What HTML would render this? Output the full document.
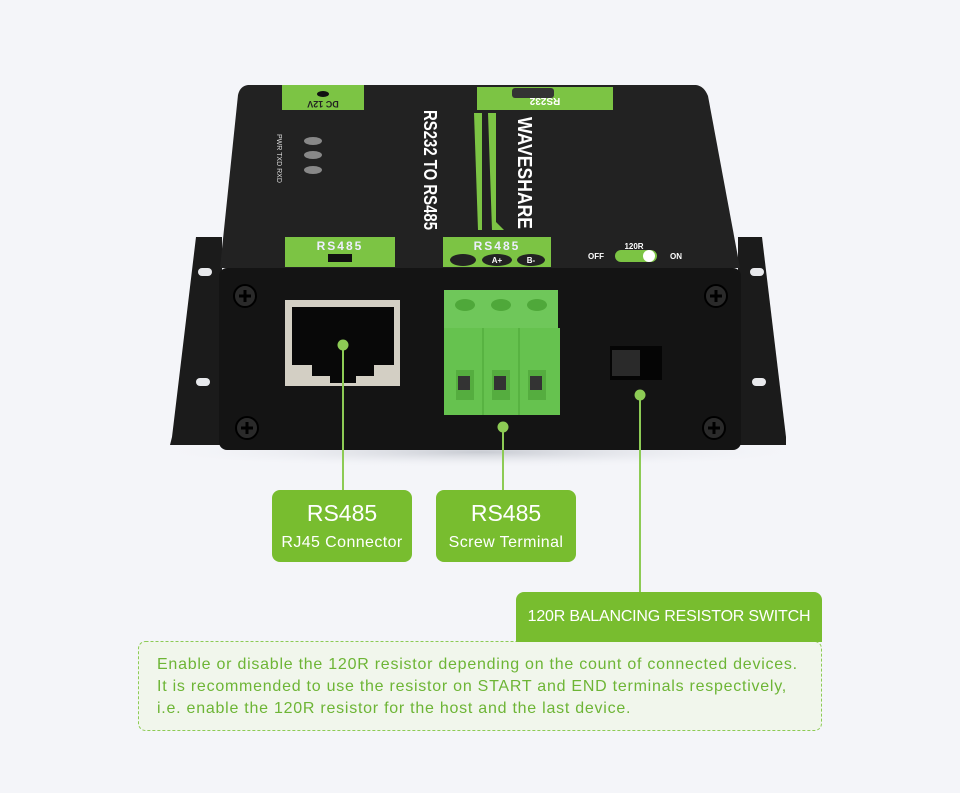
<!DOCTYPE html>
<html><head><meta charset="utf-8"><style>
body{margin:0;width:960px;height:793px;background:#f4f5f9;position:relative;overflow:hidden;font-family:"Liberation Sans",sans-serif}
.box{position:absolute;background:#78bd2f;color:#fff;text-align:center;border-radius:8px}
.t1{font-size:23px;line-height:26px;margin-top:10px}
.t2{font-size:16px;line-height:22px;margin-top:6px;letter-spacing:0.4px}
</style></head><body>
<svg width="960" height="793" style="position:absolute;left:0;top:0">
<defs><radialGradient id="sh" cx="50%" cy="50%" r="50%"><stop offset="0" stop-color="#c8cbd2"/><stop offset="1" stop-color="#f4f5f9" stop-opacity="0"/></radialGradient></defs>
<ellipse cx="480" cy="452" rx="330" ry="16" fill="url(#sh)"/>
<path d="M196 237 L222 237 L222 445 L170 445 L172 437 Z" fill="#1b1b1b"/>
<path d="M738 237 L762 237 L786 437 L786 445 L738 445 Z" fill="#1b1b1b"/>
<rect x="198" y="268" width="14" height="8" rx="4" fill="#e8e9ec"/>
<rect x="196" y="378" width="14" height="8" rx="4" fill="#e8e9ec"/>
<rect x="750" y="268" width="14" height="8" rx="4" fill="#e8e9ec"/>
<rect x="752" y="378" width="14" height="8" rx="4" fill="#e8e9ec"/>
<path d="M248 85 L696 85 Q704 86 708 96 L740 268 L220 268 L238 95 Q240 86 248 85 Z" fill="#222"/>
<rect x="282" y="85" width="82" height="25" fill="#7cc444"/>
<ellipse cx="323" cy="94" rx="6" ry="3" fill="#111"/>
<text x="323" y="107" font-size="9" font-weight="bold" fill="#222" text-anchor="middle" transform="rotate(180 323 104)">DC 12V</text>
<rect x="477" y="87" width="136" height="23" fill="#7cc444"/>
<rect x="512" y="88" width="42" height="10" rx="3" fill="#333"/>
<text x="545" y="104" font-size="10" font-weight="bold" fill="#fff" text-anchor="middle" transform="rotate(180 545 101)">RS232</text>
<ellipse cx="313" cy="141" rx="9" ry="4" fill="#888"/>
<ellipse cx="313" cy="155" rx="9" ry="4" fill="#888"/>
<ellipse cx="313" cy="170" rx="9" ry="4" fill="#888"/>
<text x="0" y="0" font-size="7" fill="#ddd" transform="translate(277 134) rotate(90)">PWR TXD RXD</text>
<text x="0" y="0" font-size="18" font-weight="bold" fill="#fff" textLength="120" lengthAdjust="spacingAndGlyphs" transform="translate(424 110) rotate(90)">RS232 TO RS485</text>
<path d="M474 113 L482 113 L482 230 L478 230 Z" fill="#7cc444"/>
<path d="M488 113 L496 113 L496 222 L504 230 L492 230 Z" fill="#7cc444"/>
<text x="0" y="0" font-size="20" font-weight="bold" fill="#fff" textLength="112" lengthAdjust="spacingAndGlyphs" transform="translate(518 117) rotate(90)">WAVESHARE</text>
<rect x="285" y="237" width="110" height="30" fill="#7cc444"/>
<text x="340" y="250" font-size="12" font-weight="bold" fill="#eef" text-anchor="middle" letter-spacing="2">RS485</text>
<rect x="328" y="254" width="24" height="8" fill="#111"/>
<rect x="443" y="237" width="108" height="30" fill="#7cc444"/>
<text x="497" y="250" font-size="12" font-weight="bold" fill="#eef" text-anchor="middle" letter-spacing="2">RS485</text>
<ellipse cx="463" cy="260" rx="13" ry="6" fill="#222"/><ellipse cx="497" cy="260" rx="15" ry="6" fill="#222"/><ellipse cx="531" cy="260" rx="14" ry="6" fill="#222"/>
<text x="497" y="263" font-size="8" font-weight="bold" fill="#fff" text-anchor="middle">A+</text>
<text x="531" y="263" font-size="8" font-weight="bold" fill="#fff" text-anchor="middle">B-</text>
<text x="634" y="249" font-size="8" font-weight="bold" fill="#fff" text-anchor="middle">120R</text>
<text x="596" y="259" font-size="8" font-weight="bold" fill="#fff" text-anchor="middle">OFF</text>
<text x="676" y="259" font-size="8" font-weight="bold" fill="#fff" text-anchor="middle">ON</text>
<rect x="615" y="250" width="42" height="12" rx="6" fill="#7cc444"/><circle cx="649" cy="256" r="6" fill="#fff"/>
<rect x="219" y="268" width="522" height="182" rx="8" fill="#141414"/>
<g fill="#2a2a2a" stroke="#000" stroke-width="2">
<circle cx="245" cy="296" r="11"/><circle cx="716" cy="296" r="11"/><circle cx="247" cy="428" r="11"/><circle cx="714" cy="428" r="11"/></g>
<g stroke="#000" stroke-width="3"><path d="M239 296h12M245 290v12M710 296h12M716 290v12M241 428h12M247 422v12M708 428h12M714 422v12"/></g>
<rect x="285" y="300" width="115" height="86" fill="#d3cfc4"/>
<path d="M292 307 H394 V365 H374 V376 H356 V383 H330 V376 H312 V365 H292 Z" fill="#080808"/>
<rect x="444" y="290" width="114" height="38" fill="#6fc75a"/>
<ellipse cx="465" cy="305" rx="10" ry="6" fill="#4fa83a"/><ellipse cx="501" cy="305" rx="10" ry="6" fill="#4fa83a"/><ellipse cx="537" cy="305" rx="10" ry="6" fill="#4fa83a"/>
<rect x="444" y="328" width="116" height="87" fill="#66c24f"/>
<rect x="456" y="370" width="18" height="30" fill="#55ad3f"/><rect x="492" y="370" width="18" height="30" fill="#55ad3f"/><rect x="528" y="370" width="18" height="30" fill="#55ad3f"/>
<rect x="458" y="376" width="12" height="14" fill="#333"/><rect x="494" y="376" width="12" height="14" fill="#333"/><rect x="530" y="376" width="12" height="14" fill="#333"/>
<path d="M483 328V415M519 328V415" stroke="#58b342" stroke-width="2"/>
<rect x="610" y="346" width="52" height="34" fill="#050505"/>
<rect x="612" y="350" width="28" height="26" fill="#2a2a2a"/>
<g stroke="#8dcb55" stroke-width="2"><path d="M343 345V490M503 427V490M640 395V592"/></g>
<g fill="#8dcb55"><circle cx="343" cy="345" r="5.5"/><circle cx="503" cy="427" r="5.5"/><circle cx="640" cy="395" r="5.5"/></g>
<rect x="138.5" y="641.5" width="683" height="89" rx="7" fill="#f1f6ec" stroke="#8dcb55" stroke-dasharray="3 2"/>
</svg>
<div class="box" style="left:272px;top:490px;width:140px;height:72px"><div class="t1">RS485</div><div class="t2">RJ45 Connector</div></div>
<div class="box" style="left:436px;top:490px;width:140px;height:72px"><div class="t1">RS485</div><div class="t2">Screw Terminal</div></div>
<div class="box" style="left:516px;top:592px;width:306px;height:50px;border-radius:8px 8px 0 0;font-size:16px;line-height:50px;letter-spacing:-0.2px">120R BALANCING RESISTOR SWITCH</div>
<div style="position:absolute;left:157px;top:654px;color:#6db535;font-size:16px;line-height:22px;letter-spacing:0.75px;white-space:nowrap">Enable or disable the 120R resistor depending on the count of connected devices.<br>It is recommended to use the resistor on START and END terminals respectively,<br>i.e. enable the 120R resistor for the host and the last device.</div>
</body></html>
